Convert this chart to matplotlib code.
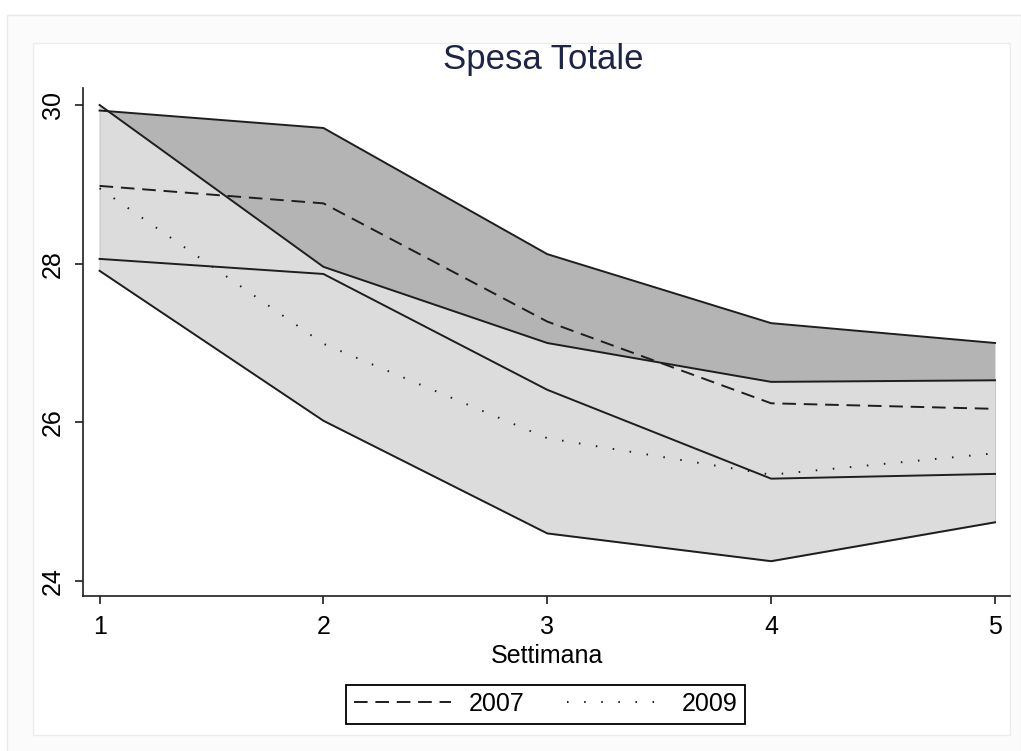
import matplotlib
matplotlib.use("Agg")
import matplotlib.pyplot as plt
from matplotlib.patches import Rectangle

plt.rcParams.update({
    "font.family": ["Liberation Sans", "DejaVu Sans"],
    "axes.linewidth": 1.2,
})

# ---- data ----
settimana = [1, 2, 3, 4, 5]
upper_2007 = [29.93, 29.71, 28.12, 27.25, 27.00]
lower_2007 = [28.06, 27.87, 26.41, 25.29, 25.35]
mean_2007 = [28.98, 28.76, 27.27, 26.24, 26.17]
upper_2009 = [30.00, 27.96, 27.00, 26.51, 26.53]
lower_2009 = [27.91, 26.02, 24.60, 24.25, 24.74]
mean_2009 = [28.95, 26.99, 25.80, 25.34, 25.61]
yticks = [24, 26, 28, 30]

W, H = 1021, 751
fig = plt.figure(figsize=(W / 100, H / 100), dpi=100)
fig.patch.set_facecolor("white")

# faint stata-like graph region boxes
fig.add_artist(Rectangle((7 / W, -0.01), (W - 7) / W, (H - 15) / H + 0.01,
                         transform=fig.transFigure, facecolor="#fbfbfc",
                         edgecolor="#e6e8ec", lw=1.0, zorder=-3))
fig.add_artist(Rectangle((33 / W, 1 - 735 / H), (1010 - 33) / W, (735 - 43) / H,
                         transform=fig.transFigure, facecolor="white",
                         edgecolor="#ececec", lw=1.0, zorder=-2))

ax = fig.add_axes([83 / W, 1 - 596 / H, (1010 - 83) / W, (596 - 88) / H])
ax.patch.set_alpha(0)

ax.fill_between(settimana, lower_2007, upper_2007, color="#b4b4b4", lw=0, zorder=1)
ax.fill_between(settimana, lower_2009, upper_2009, facecolor="#dcdcdc",
                edgecolor="#c8c8c8", lw=0.8, zorder=2)

for band in (upper_2007, lower_2007, upper_2009, lower_2009):
    ax.plot(settimana, band, color="#1e1e1e", lw=1.4, zorder=3)

ax.plot(settimana, mean_2007, color="#1e1e1e", lw=1.4, ls=(0, (7, 4)),
        zorder=4, label="2007")
ax.plot(settimana, mean_2009, color="#1e1e1e", lw=1.4, ls=(0, (0.8, 8)),
        zorder=4, label="2009")

ax.set_xlim(0.926, 5.067)
ax.set_ylim(23.811, 30.214)
ax.set_xticks(settimana)
ax.set_yticks(yticks)
ax.set_yticklabels([str(t) for t in yticks], rotation=90, va="center")
ax.tick_params(length=6, width=1.2, labelsize=18, color="#1e1e1e")
ax.tick_params(axis="x", pad=8)
ax.tick_params(axis="y", pad=7)
for s in ("top", "right"):
    ax.spines[s].set_visible(False)
for s in ("left", "bottom"):
    ax.spines[s].set_color("#1e1e1e")

ax.set_xlabel("Settimana", fontsize=18, labelpad=3)
fig.text(543 / W, 1 - 60 / H, "Spesa Totale", ha="center", va="center",
         fontsize=25, color="#1e2448")

leg = fig.legend(loc="center", bbox_to_anchor=(545.5 / W, 1 - 704 / H), ncol=2,
                 fontsize=18, handlelength=3.9, handletextpad=0.7,
                 columnspacing=1.7, borderpad=0.3, fancybox=False,
                 framealpha=1, edgecolor="black")
leg.get_frame().set_linewidth(1.3)

fig.savefig("out.png", dpi=100)
